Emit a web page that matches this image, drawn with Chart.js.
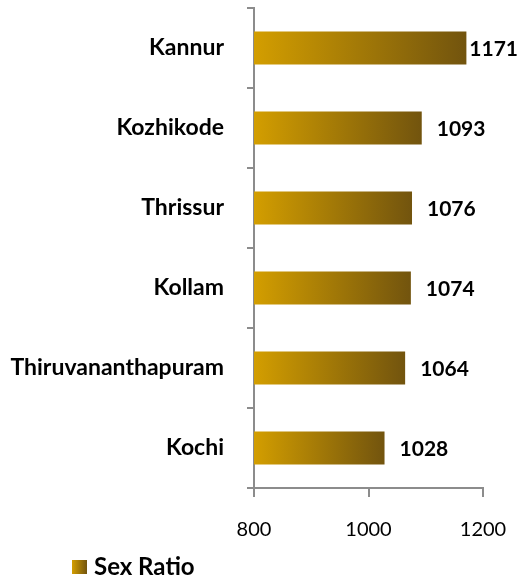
<!DOCTYPE html>
<html>
<head>
<meta charset="utf-8">
<script src="https://cdn.jsdelivr.net/npm/chart.js@4/dist/chart.umd.min.js"></script>
<style>
  html, body { margin: 0; padding: 0; background: #fff; }
  #wrap { width: 523px; height: 576px; }
</style>
</head>
<body>
<div id="wrap"><canvas id="sexRatioChart"></canvas></div>
<script>
// Chart data
const cities = ['Kannur', 'Kozhikode', 'Thrissur', 'Kollam', 'Thiruvananthapuram', 'Kochi'];
const sexRatio = [1171, 1093, 1076, 1074, 1064, 1028];
const seriesName = 'Sex Ratio';
const xTicks = [800, 1000, 1200];

const FONT = 'Lato, "Open Sans", sans-serif';
const GOLD = '#d39e00';
const BROWN = '#72540e';
const AXIS_GREY = '#8c8c8c';

// horizontal gold -> brown gradient across the bar
function barGradient(context) {
    const chart = context.chart;
    if (!chart.chartArea || !chart.scales.x) return GOLD;
    const x = chart.scales.x;
    const x0 = x.getPixelForValue(x.min);
    const x1 = x.getPixelForValue(context.raw);
    if (!isFinite(x1) || x1 <= x0) return GOLD;
    const g = chart.ctx.createLinearGradient(x0, 0, x1, 0);
    g.addColorStop(0, GOLD);
    g.addColorStop(1, BROWN);
    return g;
}

// value labels at the end of each bar
const valueLabels = {
    id: 'valueLabels',
    afterDatasetsDraw(chart) {
        const ctx = chart.ctx;
        const meta = chart.getDatasetMeta(0);
        ctx.save();
        ctx.font = 'bold 21px ' + FONT;
        ctx.fillStyle = '#000';
        ctx.textBaseline = 'middle';
        ctx.textAlign = 'left';
        meta.data.forEach((bar, i) => {
            const txt = String(chart.data.datasets[0].data[i]);
            const w = ctx.measureText(txt).width;
            let x = bar.x + 15;
            if (x + w > chart.width - 5) x = chart.width - 5 - w;
            ctx.fillText(txt, x, bar.y + 1);
        });
        ctx.restore();
    }
};

// legend drawn at bottom-left
const bottomLegend = {
    id: 'bottomLegend',
    afterDraw(chart) {
        const ctx = chart.ctx;
        const bx = 72, by = 560, bw = 15, bh = 14;
        ctx.save();
        const g = ctx.createLinearGradient(bx, 0, bx + bw, 0);
        g.addColorStop(0, GOLD);
        g.addColorStop(1, BROWN);
        ctx.fillStyle = g;
        ctx.fillRect(bx, by, bw, bh);
        ctx.font = 'bold 24px ' + FONT;
        ctx.fillStyle = '#000';
        ctx.textBaseline = 'middle';
        ctx.fillText(chart.data.datasets[0].label, 94, by + bh / 2);
        ctx.restore();
    }
};

new Chart(document.getElementById('sexRatioChart'), {
    type: 'bar',
    data: {
        labels: cities,
        datasets: [{
            label: seriesName,
            data: sexRatio,
            backgroundColor: barGradient,
            borderWidth: 0,
            categoryPercentage: 1,
            barPercentage: 0.41
        }]
    },
    options: {
        indexAxis: 'y',
        responsive: true,
        maintainAspectRatio: false,
        animation: false,
        layout: {
            padding: { top: 8, right: 40, bottom: 34, left: 0 }
        },
        plugins: {
            legend: { display: false },
            tooltip: { enabled: false }
        },
        scales: {
            x: {
                min: 800,
                max: 1200,
                afterBuildTicks: (scale) => {
                    scale.ticks = xTicks.map(v => ({ value: v }));
                },
                afterFit: (scale) => {
                    scale.height = 54;
                    scale.paddingLeft = 0;
                    scale.paddingRight = 0;
                },
                border: { display: true, color: AXIS_GREY, width: 2 },
                grid: {
                    display: true,
                    drawOnChartArea: false,
                    drawTicks: true,
                    tickLength: 9,
                    color: AXIS_GREY,
                    lineWidth: 2
                },
                ticks: {
                    color: '#000',
                    font: { family: FONT, size: 20 },
                    padding: 21,
                    maxRotation: 0,
                    callback: (v) => String(v)
                }
            },
            y: {
                offset: true,
                afterFit: (scale) => {
                    scale.width = 254;
                    scale.paddingTop = 0;
                    scale.paddingBottom = 0;
                },
                border: { display: true, color: AXIS_GREY, width: 2 },
                grid: {
                    display: true,
                    offset: true,
                    drawOnChartArea: false,
                    drawTicks: true,
                    tickLength: 7,
                    color: AXIS_GREY,
                    lineWidth: 2
                },
                ticks: {
                    color: '#000',
                    font: { family: FONT, size: 23, weight: 'bold' },
                    padding: 23
                }
            }
        }
    },
    plugins: [valueLabels, bottomLegend]
});
</script>
</body>
</html>
